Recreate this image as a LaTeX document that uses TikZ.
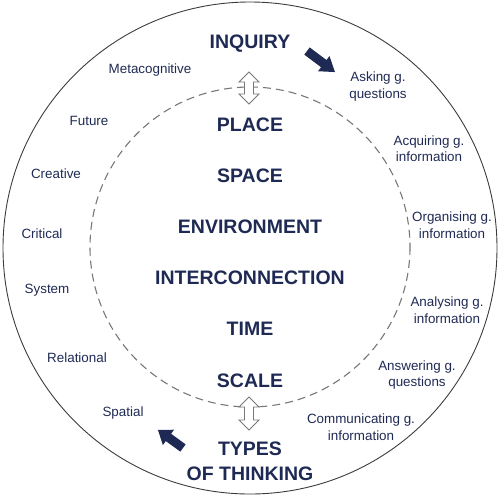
\documentclass[tikz,border=0pt]{standalone}
\usepackage{fontspec}
\setmainfont{Liberation Sans}
\definecolor{navy}{RGB}{31,42,84}
\definecolor{ringgray}{RGB}{60,60,60}
\definecolor{dashgray}{RGB}{120,120,120}
\tikzset{
  big/.style={font=\fontsize{19.5}{25}\selectfont\bfseries, text=navy, inner sep=0pt, align=center},
  small/.style={font=\fontsize{13.4}{16.5}\selectfont, text=navy, inner sep=0pt, align=center},
  blockarrow/.style={fill=navy, draw=none},
  hollowarrow/.style={fill=white, draw=dashgray, line width=0.8pt, line join=miter}
}
\begin{document}
\begin{tikzpicture}[x=1pt,y=-1pt]
\useasboundingbox (0,0) rectangle (500,499);
% circles
\draw[ringgray, line width=0.9pt] (250,248) ellipse [x radius=247, y radius=246];
\draw[dashgray, line width=1.1pt, dash pattern=on 8pt off 5pt] (250,247) circle (160);

% top and bottom titles
\node[big] (inq) at (250,44) {INQUIRY};
\node[big] (typ) at (250,461.5) {TYPES\\OF THINKING};

% centre concepts
\node[big] (place) at (250,125) {PLACE};
\node[big] (space) at (250,176) {SPACE};
\node[big] (env) at (250,227) {ENVIRONMENT};
\node[big] (inter) at (250,278) {INTERCONNECTION};
\node[big] (time) at (250,329) {TIME};
\node[big] (scale) at (250,381) {SCALE};

% types of thinking
\node[small] (meta) at (150,70) {Metacognitive};
\node[small] (fut) at (89,121) {Future};
\node[small] (cre) at (56,174) {Creative};
\node[small] (cri) at (42,234) {Critical};
\node[small] (sys) at (47,290) {System};
\node[small] (rel) at (77,358) {Relational};
\node[small] (spa) at (123,413) {Spatial};

% inquiry steps
\node[small] (ask) at (378,86.5) {Asking g.\\questions};
\node[small] (acq) at (429,148.5) {Acquiring g.\\information};
\node[small] (org) at (452,225) {Organising g.\\information};
\node[small] (ana) at (447,310) {Analysing g.\\information};
\node[small] (ans) at (417,375) {Answering g.\\questions};
\node[small] (com) at (361,427) {Communicating g.\\information};

% block arrows
\begin{scope}[shift={(307,51)}, rotate=-37]
  \path[blockarrow] (0,-4.5) -- (21,-4.5) -- (21,-9.5) -- (35,0) -- (21,9.5) -- (21,4.5) -- (0,4.5) -- cycle;
\end{scope}
\begin{scope}[shift={(183,448)}, rotate=144]
  \path[blockarrow] (0,-4.5) -- (18,-4.5) -- (18,-9.5) -- (31,0) -- (18,9.5) -- (18,4.5) -- (0,4.5) -- cycle;
\end{scope}

% hollow double arrows
\path[hollowarrow] (249,72) -- (259,82) -- (253.5,82) -- (253.5,94) -- (259,94) -- (249,104) -- (239,94) -- (244.5,94) -- (244.5,82) -- (239,82) -- cycle;
\path[hollowarrow] (249,397) -- (259,407) -- (253.5,407) -- (253.5,420) -- (259,420) -- (249,430) -- (239,420) -- (244.5,420) -- (244.5,407) -- (239,407) -- cycle;
\end{tikzpicture}
\end{document}
